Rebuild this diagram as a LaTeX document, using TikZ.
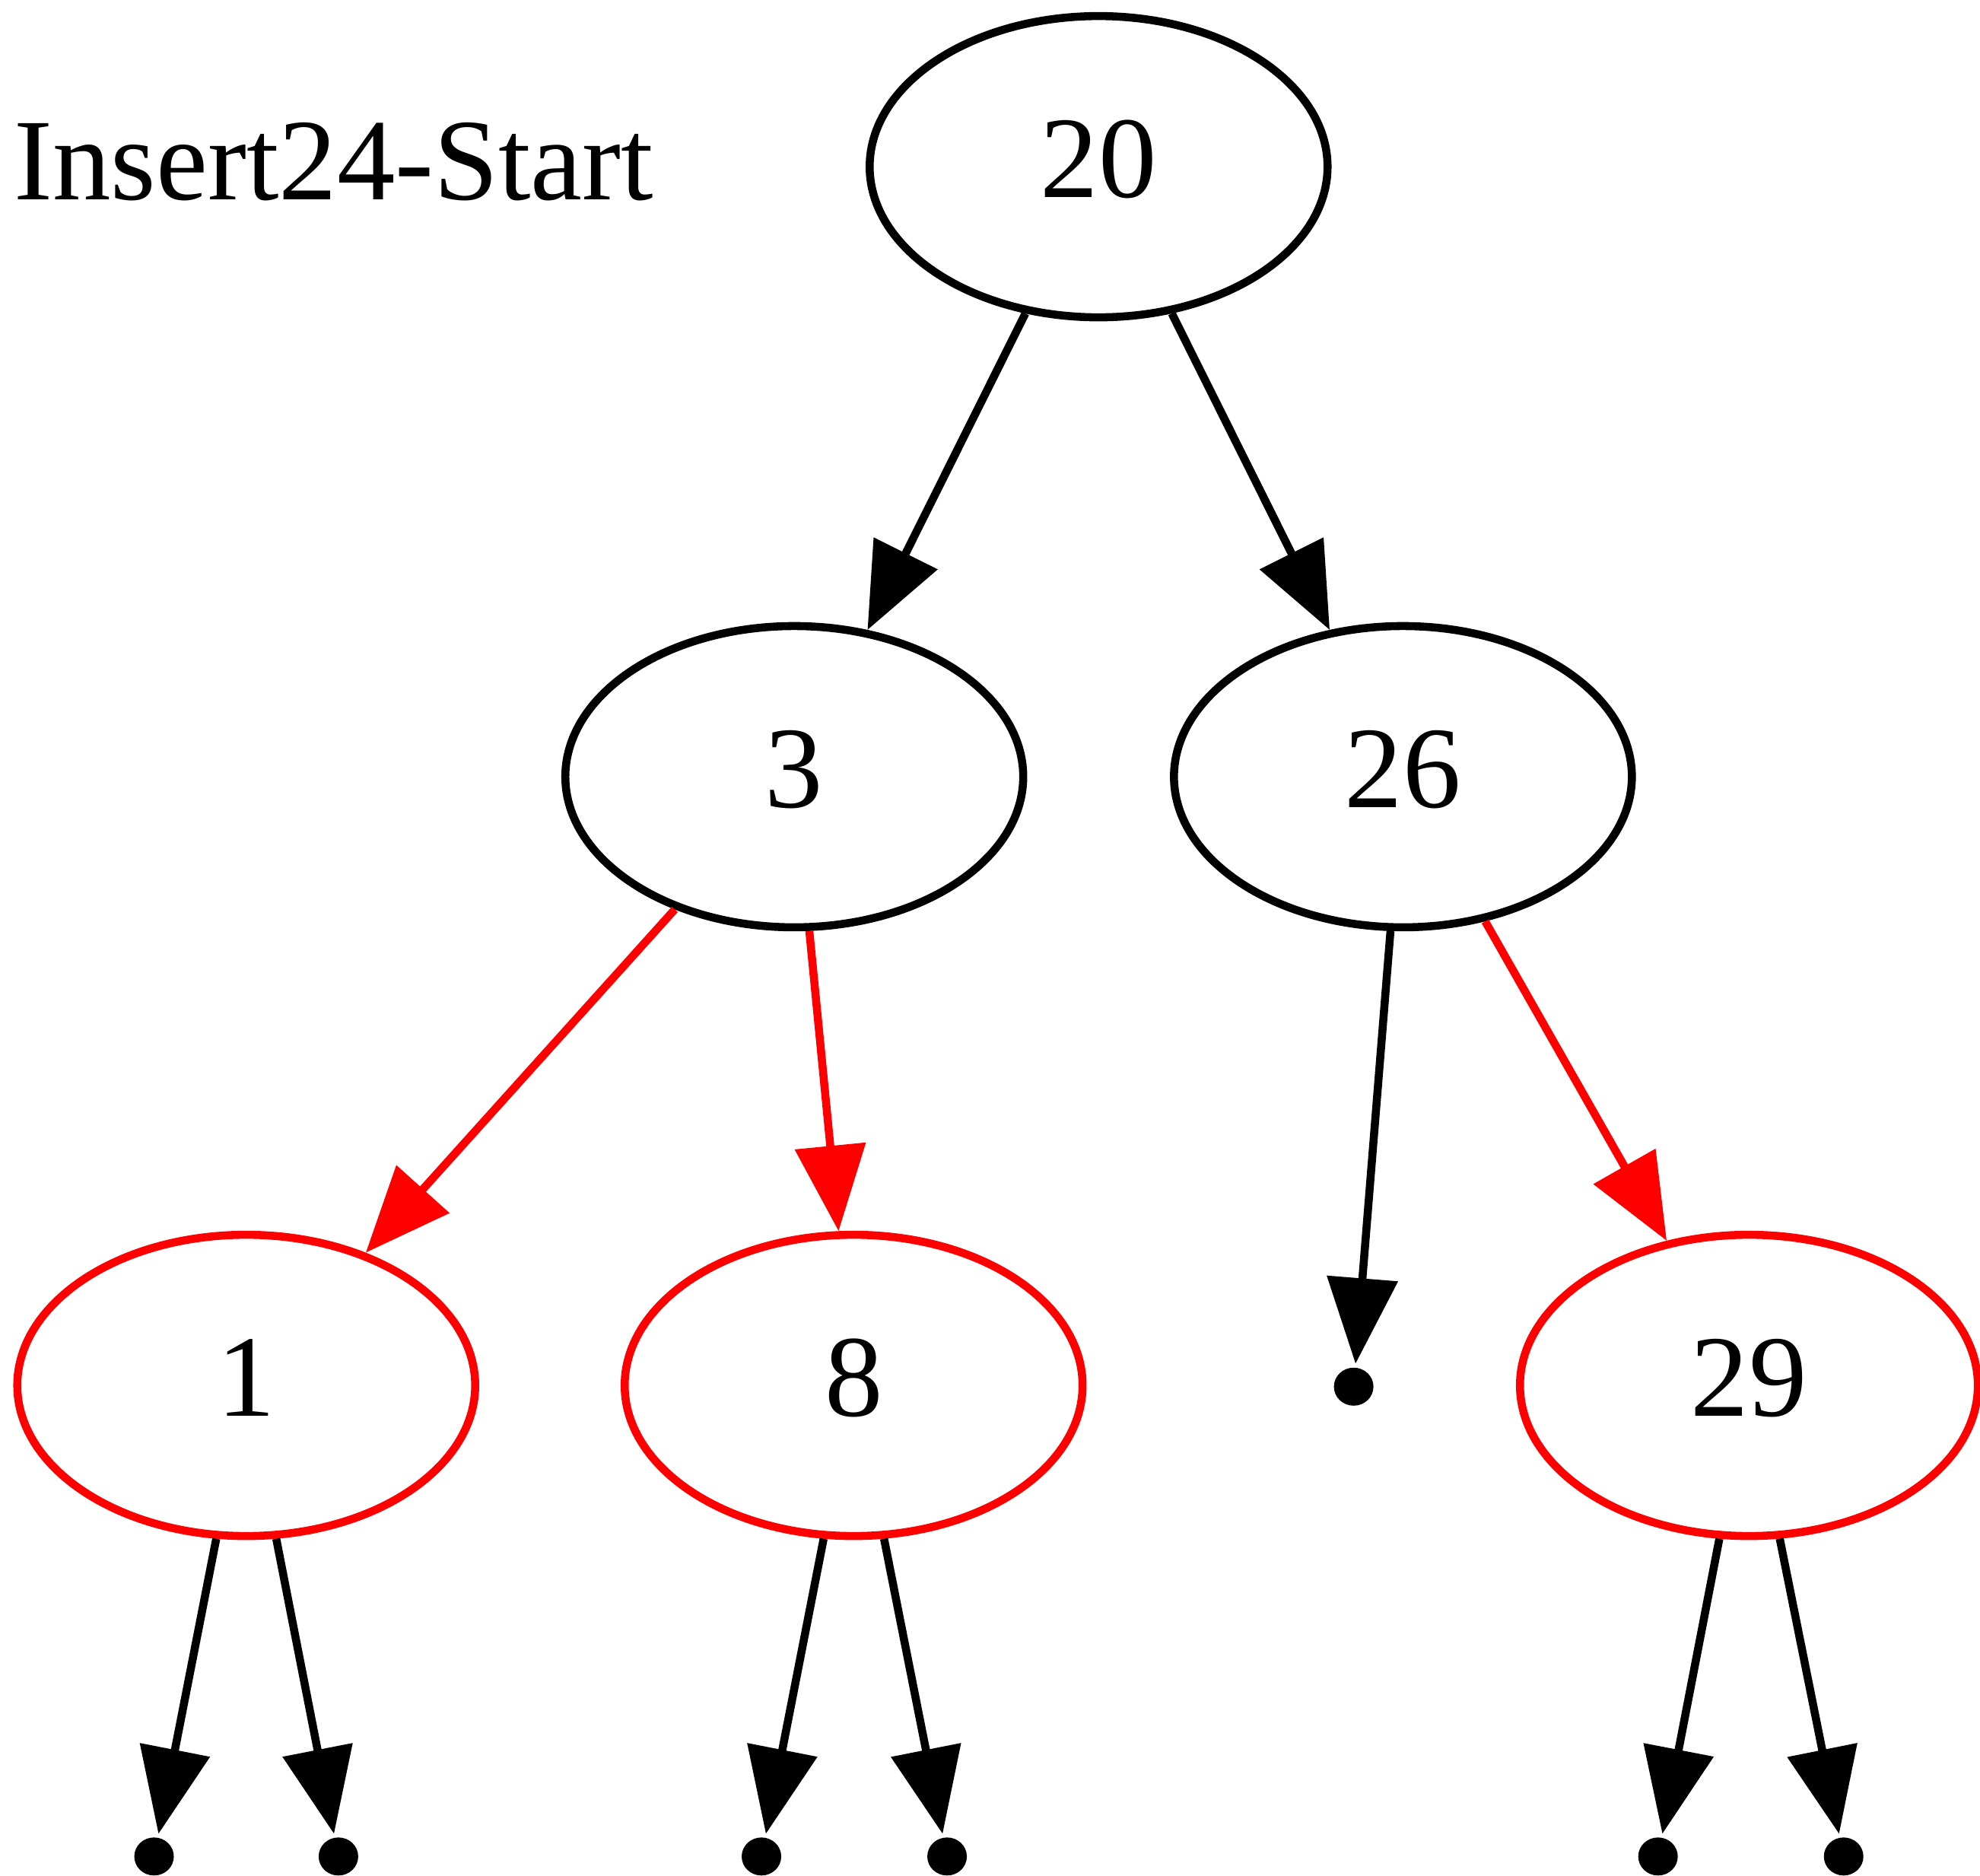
\documentclass[tikz,border=0pt]{standalone}
\usepackage{fontspec}
\setmainfont{Liberation Serif}
\usetikzlibrary{shapes.geometric,arrows.meta}

\begin{document}
\begin{tikzpicture}
  [x=0.0166cm,y=-0.0166cm,line width=3pt,
   >={Triangle[length=32pt,width=26pt]},
   every node/.style={font=\fontsize{43.5}{52}\selectfont},
   blacknode/.style={ellipse,draw,minimum width=6.02cm,minimum height=3.96cm,inner sep=0pt,text depth=0.2cm},
   rednode/.style={blacknode,draw=red},
   leaf/.style={ellipse,fill,minimum width=0.52cm,minimum height=0.5cm,inner sep=0pt}]

  \useasboundingbox (0,0) rectangle (1568,1485);
  \node[anchor=base west,inner sep=0pt] (title) at (8,158) {Insert24-Start};

  \node[blacknode] (n20) at (870,132) {20};
  \node[blacknode] (n3) at (629,615) {3};
  \node[blacknode] (n26) at (1111,615) {26};
  \node[rednode] (n1) at (195,1097) {1};
  \node[rednode] (n8) at (676,1097) {8};
  \node[rednode] (n29) at (1385,1097) {29};

  \node[leaf] (l0) at (1072,1098) {};
  \node[leaf] (l1) at (122,1470) {};
  \node[leaf] (l2) at (268,1470) {};
  \node[leaf] (l3) at (603,1470) {};
  \node[leaf] (l4) at (750,1470) {};
  \node[leaf] (l5) at (1313,1470) {};
  \node[leaf] (l6) at (1460,1470) {};

  \foreach \from/\to in
  {n20/n3,n20/n26,n26/l0,n1/l1,n1/l2,n8/l3,n8/l4,n29/l5,n29/l6}
    \draw[->] (\from) -- (\to);

  \foreach \from/\to in {n3/n1,n3/n8,n26/n29}
    \draw[->,red] (\from) -- (\to);
\end{tikzpicture}
\end{document}
